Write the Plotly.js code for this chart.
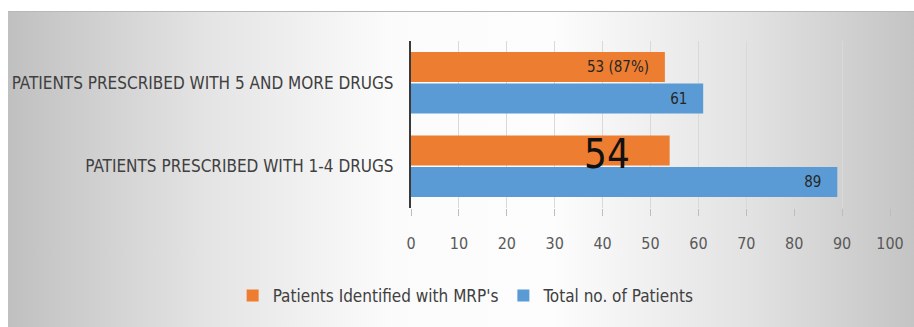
<!DOCTYPE html>
<html>
<head>
<meta charset="utf-8">
<script src="https://cdn.plot.ly/plotly-3.0.1.min.js"></script>
<style>
  html, body { margin: 0; padding: 0; background: #ffffff; }
  #frame {
    position: absolute; left: 8px; top: 11px; width: 906px; height: 316px;
    background: linear-gradient(to right, #c0c0c0 0%, #e4e4e4 22%, #fbfbfb 42%, #fdfdfd 60%, #e2e2e2 82%, #c4c4c4 100%);
    border-top: 1px solid #b8b8b8;
  }
  #chart { position: absolute; left: 0; top: 0; width: 914px; height: 327px; }
</style>
</head>
<body>
<div id="frame"></div>
<div id="chart"></div>
<script>
const categories = ["PATIENTS PRESCRIBED WITH 1-4 DRUGS", "PATIENTS PRESCRIBED WITH 5 AND MORE DRUGS"];
const seriesNames = ["Total no. of Patients", "Patients Identified with MRP's"];
const totalPatients = [89, 61];
const mrpPatients = [54, 53];
const mrpLabels = ["", "53 (87%)"];
const bigLabel = "54";
const xTicks = [0, 10, 20, 30, 40, 50, 60, 70, 80, 90, 100];

const FONT = '"Liberation Sans Narrow", "DejaVu Sans Condensed", "Open Sans", sans-serif';
const pad = "\u00a0\u00a0\u00a0";

const traces = [
  {
    type: "bar", orientation: "h", name: seriesNames[0],
    y: categories, x: totalPatients,
    text: totalPatients.map(v => String(v) + pad),
    textposition: "inside", insidetextanchor: "end", constraintext: "none",
    textfont: { family: FONT, size: 15, color: "#262626" },
    marker: { color: "#5b9bd5" },
    hoverinfo: "x+name"
  },
  {
    type: "bar", orientation: "h", name: seriesNames[1],
    y: categories, x: mrpPatients,
    text: mrpLabels.map(t => t ? t + pad : ""),
    textposition: "inside", insidetextanchor: "end", constraintext: "none",
    textfont: { family: FONT, size: 15, color: "#262626" },
    marker: { color: "#ed7d31" },
    hoverinfo: "x+name"
  }
];

const layout = {
  width: 914, height: 327,
  paper_bgcolor: "rgba(0,0,0,0)", plot_bgcolor: "rgba(0,0,0,0)",
  margin: { l: 411, r: 24, t: 41, b: 119 },
  barmode: "group", bargap: 0.245, bargroupgap: 0.05,
  showlegend: true,
  legend: {
    orientation: "h", traceorder: "reversed",
    xref: "container", yref: "container",
    x: 0.51, xanchor: "center", y: 0.095, yanchor: "middle",
    font: { family: FONT, size: 17, color: "#404040" },
    itemwidth: 30, bgcolor: "rgba(0,0,0,0)"
  },
  xaxis: {
    range: [0, 100], tickvals: xTicks, ticktext: xTicks.map(String),
    showgrid: true, gridcolor: "#d9d9d9", gridwidth: 1,
    zeroline: false, showline: false,
    ticks: "outside", ticklen: 7, tickcolor: "#bdbdbd", tickwidth: 1,
    ticklabelstandoff: 14,
    tickfont: { family: FONT, size: 16, color: "#595959" },
    fixedrange: true
  },
  yaxis: {
    type: "category", categoryorder: "array", categoryarray: categories,
    showline: true, linecolor: "#3a3a3a", linewidth: 2,
    showgrid: false, zeroline: false, ticks: "",
    ticklabelstandoff: 12,
    tickfont: { family: FONT, size: 17, color: "#404040" },
    fixedrange: true
  },
  annotations: [
    {
      xref: "x", yref: "y", x: mrpPatients[0], y: categories[0],
      text: bigLabel, showarrow: false, xanchor: "right",
      xshift: -38, yshift: 12,
      font: { family: FONT, size: 40, color: "#111111" }
    }
  ]
};

Plotly.newPlot("chart", traces, layout, { displayModeBar: false, staticPlot: true });
</script>
</body>
</html>
